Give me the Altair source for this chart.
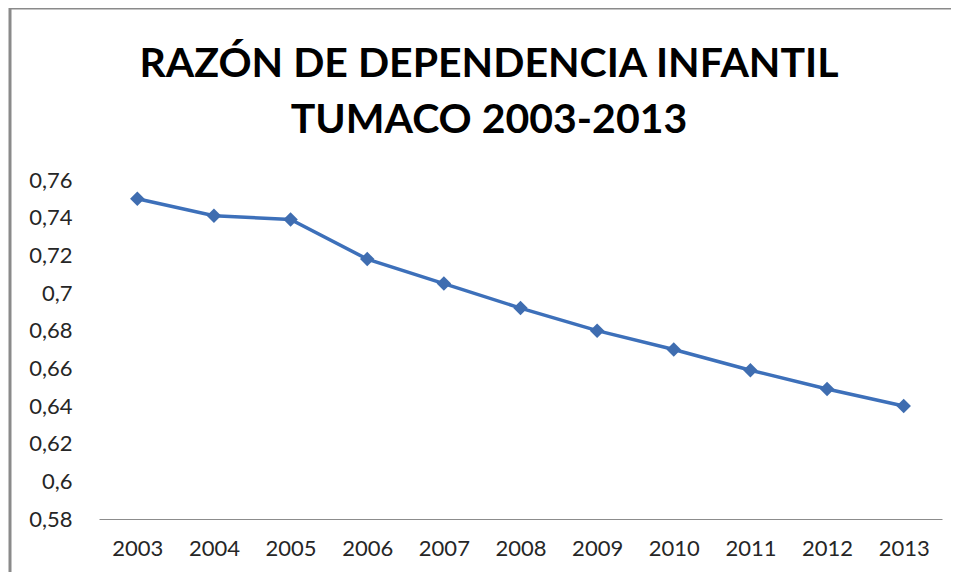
import altair as alt
import pandas as pd

years = ["2003", "2004", "2005", "2006", "2007", "2008", "2009", "2010", "2011", "2012", "2013"]
values = [0.750, 0.741, 0.739, 0.718, 0.705, 0.692, 0.680, 0.670, 0.659, 0.649, 0.640]
y_ticks = [0.58, 0.60, 0.62, 0.64, 0.66, 0.68, 0.70, 0.72, 0.74, 0.76]
title_lines = ["RAZÓN DE DEPENDENCIA INFANTIL", "TUMACO 2003-2013"]

df = pd.DataFrame({"year": years, "value": values})

base = alt.Chart(df).encode(
    x=alt.X("year:N", sort=years, title=None,
            scale=alt.Scale(paddingInner=0, paddingOuter=0, align=0.5),
            axis=alt.Axis(labelAngle=0, ticks=False, domainColor="#8c8c8c",
                          labelFontSize=22, labelColor="#262626", labelPadding=19,
                          labelFont="Lato")),
    y=alt.Y("value:Q", title=None,
            scale=alt.Scale(domain=[0.58, 0.76], nice=False, zero=False),
            axis=alt.Axis(values=y_ticks, grid=False, domain=False, ticks=False,
                          labelFontSize=22, labelColor="#262626", labelPadding=27,
                          labelFont="Lato",
                          labelExpr="replace(format(datum.value, '.2~f'), '.', ',')")),
)

line = base.mark_line(color="#3D70BA", strokeWidth=3.5)
pts = base.mark_point(shape="diamond", filled=True, size=210, color="#3F6DB0", opacity=1)

one = pd.DataFrame({"k": [0]})

# chart frame (decorative border, like the spreadsheet chart area)
frame_left = alt.Chart(one).mark_rule(color="#8a8a8a", strokeWidth=3).encode(
    x=alt.value(-89), y=alt.value(-172), y2=alt.value(400))
frame_top = alt.Chart(one).mark_rule(color="#8a8a8a", strokeWidth=3).encode(
    x=alt.value(-90), x2=alt.value(860), y=alt.value(-172))

# chart title drawn as text
title = alt.Chart(one).mark_text(
    font="Lato", fontSize=41, fontWeight="bold", color="#000000",
    align="center", baseline="alphabetic", lineHeight=56,
).encode(x=alt.value(390), y=alt.value(-103), text=alt.value(title_lines))

chart = alt.layer(frame_left, frame_top, title, line, pts).properties(
    width=843, height=339,
    autosize=alt.AutoSizeParams(type="none"),
    padding={"left": 91, "top": 172, "right": 9, "bottom": 53},
).configure_view(stroke=None)

chart.save("out.html", embed_options={"renderer": "svg", "actions": False})
